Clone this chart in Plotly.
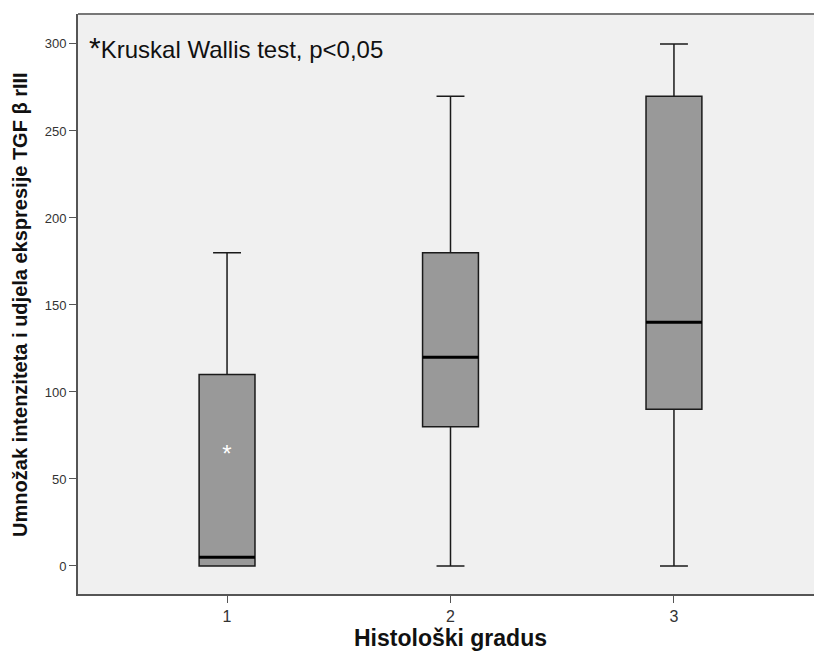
import plotly.graph_objects as go

grades = [1, 2, 3]
mins = [0, 0, 0]
q1s = [0, 80, 90]
medians = [5, 120, 140]
q3s = [110, 180, 270]
maxs = [180, 270, 300]
outlier_star = [(1, 63)]
y_ticks = [0, 50, 100, 150, 200, 250, 300]
x_title = "Histološki gradus"
y_title = "Umnožak intenziteta i udjela ekspresije TGF β rIII"
note = "Kruskal Wallis test, p<0,05"

box_w = 0.25

fig = go.Figure()
fig.add_trace(go.Box(
    x=grades, q1=q1s, median=medians, q3=q3s,
    lowerfence=mins, upperfence=maxs,
    width=box_w, whiskerwidth=0.5,
    fillcolor="#999999",
    line=dict(color="#1a1a1a", width=1.5),
    boxpoints=False, showlegend=False, hoverinfo="skip",
))
# thick median lines
for g, m in zip(grades, medians):
    fig.add_trace(go.Scatter(
        x=[g - box_w / 2, g + box_w / 2], y=[m, m], mode="lines",
        line=dict(color="black", width=3), showlegend=False, hoverinfo="skip",
    ))
for gx, gy in outlier_star:
    fig.add_trace(go.Scatter(
        x=[gx], y=[gy], mode="text", text=["*"],
        textfont=dict(color="white", size=24, family="Arial"),
        showlegend=False, hoverinfo="skip",
    ))

fig.update_layout(
    width=823, height=653,
    margin=dict(l=78, r=0, t=14, b=59),
    paper_bgcolor="white", plot_bgcolor="#F0F0F0",
    font=dict(family="Arial", color="#222222"),
    xaxis=dict(
        range=[0.333, 3.667], tickvals=grades, ticktext=[str(g) for g in grades],
        showgrid=False, zeroline=False, showline=True, linecolor="#555555", linewidth=2,
        ticks="outside", ticklen=7, tickcolor="#555555", tickfont=dict(size=16, color="#333333"),
        title=dict(text="<b>" + x_title + "</b>", font=dict(size=23, color="#111111"), standoff=3),
    ),
    yaxis=dict(
        range=[-16.1, 317.2], tickvals=y_ticks,
        showgrid=False, zeroline=False, showline=True, linecolor="#555555", linewidth=2,
        ticks="outside", ticklen=7, tickcolor="#555555", tickfont=dict(size=13, color="#333333"),
    ),
    shapes=[dict(type="line", xref="paper", yref="paper", x0=0, x1=1, y0=1, y1=1,
                 line=dict(color="#777777", width=2))],
    annotations=[
        dict(
            xref="paper", yref="paper", x=0.012, y=0.975, xanchor="left", yanchor="top",
            text="<span style='font-size:30px'>*</span>" + note, showarrow=False,
            font=dict(size=24, color="#111111", family="Arial"),
        ),
        dict(
            xref="paper", yref="paper", x=-0.078, y=0.5, xanchor="center", yanchor="middle",
            textangle=-90, text="<b>" + y_title + "</b>", showarrow=False,
            font=dict(size=20, color="#111111", family="Arial"),
        ),
    ],
)

fig.write_html("out.html", config={"displayModeBar": False},
               post_script="document.body.style.margin='0';document.body.style.overflow='hidden';")
